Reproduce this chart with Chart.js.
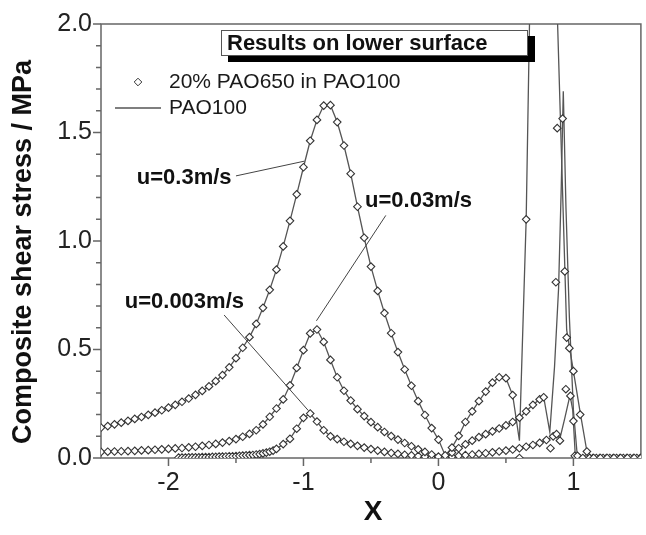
<!DOCTYPE html>
<html>
<head>
<meta charset="utf-8">
<script src="https://cdn.jsdelivr.net/npm/chart.js@4.4.1/dist/chart.umd.min.js"></script>
<style>
html, body { margin: 0; padding: 0; background: #fff; }
</style>
</head>
<body>
<canvas id="myChart" width="646" height="535"></canvas>
<script>
// x positions shared by the u=0.3 and u=0.03 runs (smooth part)
var xAB = [-2.5,-2.45,-2.4,-2.35,-2.3,-2.25,-2.2,-2.15,-2.1,-2.05,
    -2,-1.95,-1.9,-1.85,-1.8,-1.75,-1.7,-1.65,-1.6,-1.55,
    -1.5,-1.45,-1.4,-1.35,-1.3,-1.25,-1.2,-1.15,-1.1,-1.05,
    -1,-0.95,-0.9,-0.85,-0.8,-0.75,-0.7,-0.65,-0.6,-0.55,
    -0.5,-0.45,-0.4,-0.35,-0.3,-0.25,-0.2,-0.15,-0.1,-0.05,
    0,0.05,0.1,0.15,0.2,0.25,0.3,0.35,0.4,0.45,
    0.5,0.55,0.6,0.65,0.7,0.75];

// u=0.3m/s : both fluids agree up to x=0.55
var yA = [0.140,0.147,0.155,0.163,0.171,0.180,0.189,0.199,0.209,0.220,
    0.232,0.245,0.259,0.274,0.291,0.309,0.330,0.354,0.382,0.418,
    0.460,0.508,0.557,0.618,0.692,0.775,0.868,0.975,1.093,1.215,
    1.340,1.462,1.558,1.624,1.626,1.548,1.440,1.310,1.158,1.015,
    0.882,0.770,0.668,0.575,0.488,0.408,0.333,0.262,0.198,0.138,
    0.085,0.012,0.048,0.102,0.166,0.215,0.262,0.306,0.347,0.372,
    0.368,0.290];
var xAMixTail = [0.6,0.65,0.7,0.75,0.8,0.85,0.9,0.95,1,1.05,1.1,1.15,1.2,1.25,1.3,1.35,1.4,1.45,1.5];
var yAMixTail = [0,1.10,2.7,3.3,3.1,2.5,2.2,0.555,0.40,0.20,0.03,0,0,0,0,0,0,0,0];
var xAPureTail = [0.6,0.65,0.68,0.75,0.82,0.88,0.95,1,1.05,1.1,1.15,1.5];
var yAPureTail = [0.08,1.10,2.2,3.4,3.0,2.06,0.59,0.40,0.21,0.03,0,0];

// u=0.03m/s
var yB = [0.028,0.029,0.030,0.031,0.032,0.033,0.035,0.036,0.038,0.040,
    0.042,0.044,0.046,0.049,0.052,0.056,0.060,0.065,0.071,0.078,
    0.087,0.098,0.111,0.128,0.155,0.190,0.228,0.270,0.335,0.415,
    0.497,0.574,0.592,0.535,0.452,0.372,0.310,0.265,0.225,0.193,
    0.165,0.142,0.120,0.101,0.085,0.069,0.054,0.040,0.028,0.016,
    0.006,0.004,0.025,0.045,0.063,0.080,0.096,0.110,0.123,0.136,
    0.150,0.166,0.186,0.215,0.245,0.270];
var xBMixTail = [0.78,0.83,0.87,0.88,0.92,0.936,0.97,1,1.03,1.07,1.12,1.17,1.22,1.27,1.32,1.37,1.42,1.47];
var yBMixTail = [0.28,0.045,0.81,1.52,1.564,0.86,0.506,0.17,0.01,0,0,0,0,0,0,0,0,0];
var xBPureTail = [0.78,0.825,0.86,0.89,0.91,0.925,0.945,0.97,1,1.03,1.5];
var yBPureTail = [0.28,0.12,0.42,0.78,1.25,1.69,1.15,0.65,0.22,0,0];

// u=0.003m/s
var xC = [-1.925,-1.9,-1.875,-1.85,-1.825,-1.8,-1.775,-1.75,-1.725,-1.7,
    -1.675,-1.65,-1.625,-1.6,-1.575,-1.55,-1.525,-1.5,-1.475,-1.45,
    -1.425,-1.4,-1.375,-1.35,-1.325,-1.3,-1.275,-1.25,-1.225,-1.2,
    -1.15,-1.1,-1.05,-1,-0.95,-0.9,-0.85,-0.8,-0.75,-0.7,
    -0.65,-0.6,-0.55,-0.5,-0.45,-0.4,-0.35,-0.3,-0.25,-0.2,
    -0.15,-0.1,-0.05,0,0.05,0.1,0.15,0.2,0.25,0.3,
    0.35,0.4,0.45,0.5,0.55,0.6,0.65,0.7,0.75,0.8,
    0.85,0.875];
var yC = [0.002,0.002,0.002,0.003,0.003,0.003,0.003,0.004,0.004,0.004,
    0.005,0.005,0.006,0.006,0.007,0.008,0.008,0.009,0.010,0.011,
    0.012,0.013,0.014,0.016,0.018,0.021,0.025,0.029,0.034,0.042,
    0.064,0.088,0.135,0.185,0.205,0.168,0.128,0.100,0.087,0.075,
    0.065,0.056,0.048,0.041,0.034,0.028,0.023,0.019,0.015,0.012,
    0.009,0.006,0.004,0.002,0.003,0.006,0.010,0.013,0.016,0.019,
    0.022,0.026,0.030,0.034,0.039,0.045,0.052,0.060,0.070,0.083,
    0.100,0.110];
var xCMixTail = [0.9,0.944,0.978,1.01,1.045,1.095,1.145,1.195,1.245,1.295,1.345,1.395,1.445,1.495];
var yCMixTail = [0.08,0.317,0.286,0.01,0,0,0,0,0,0,0,0,0,0];
var xCPureTail = [0.9,0.935,0.975,0.995,1.015,1.5];
var yCPureTail = [0.09,0.18,0.29,0.22,0,0];

// ticks
var xMajor = [-2, -1, 0, 1];
var xMinor = [-1.5, -0.5, 0.5];
var yMajor = [0, 0.5, 1, 1.5, 2];
var yMinor = [0.1,0.2,0.3,0.4,0.6,0.7,0.8,0.9,1.1,1.2,1.3,1.4,1.6,1.7,1.8,1.9];

// labels on the plot
var notes = ['u=0.3m/s', 'u=0.03m/s', 'u=0.003m/s'];
var noteAt = [[-2.235, 1.29], [-0.544, 1.186], [-2.324, 0.718]];
var noteFrom = [[-1.50, 1.30], [-0.39, 1.118], [-1.588, 0.659]];
var noteTo = [[-0.993, 1.368], [-0.904, 0.632], [-0.963, 0.218]];

var FONT = '"Liberation Sans", Arial, sans-serif';

function pts(xs, ys) {
    return ys.map(function(y, i) { return {x: xs[i], y: y}; });
}

function lineSet(data) {
    return {label: 'PAO100', data: data, showLine: true, borderColor: '#555',
        borderWidth: 1.3, pointRadius: 0, pointHoverRadius: 0, tension: 0, order: 2};
}
function markSet(data) {
    return {label: '20% PAO650 in PAO100', data: data, showLine: false, pointStyle: 'rectRot',
        pointRadius: 3.8, borderColor: '#333', backgroundColor: '#fff', borderWidth: 1.1, order: 1};
}

var frame = {
    id: 'frame',
    beforeDatasetsDraw: function(chart) {
        var ctx = chart.ctx, a = chart.chartArea, sx = chart.scales.x, sy = chart.scales.y;
        ctx.save();
        ctx.strokeStyle = '#666';
        ctx.lineWidth = 1.5;
        ctx.strokeRect(a.left, a.top, a.right - a.left, a.bottom - a.top);
        ctx.beginPath();
        xMajor.forEach(function(v) { var p = sx.getPixelForValue(v); ctx.moveTo(p, a.bottom); ctx.lineTo(p, a.bottom + 8); });
        xMinor.forEach(function(v) { var p = sx.getPixelForValue(v); ctx.moveTo(p, a.bottom); ctx.lineTo(p, a.bottom + 5); });
        yMajor.forEach(function(v) { var p = sy.getPixelForValue(v); ctx.moveTo(a.left, p); ctx.lineTo(a.left - 8, p); });
        yMinor.forEach(function(v) { var p = sy.getPixelForValue(v); ctx.moveTo(a.left, p); ctx.lineTo(a.left - 5, p); });
        ctx.stroke();
        ctx.restore();
    }
};

var overlay = {
    id: 'overlay',
    afterDraw: function(chart) {
        var ctx = chart.ctx, sx = chart.scales.x, sy = chart.scales.y;
        var ds = chart.data.datasets;
        ctx.save();

        // leader lines and curve labels
        ctx.strokeStyle = '#444';
        ctx.lineWidth = 1;
        ctx.fillStyle = '#111';
        ctx.font = 'bold 22px ' + FONT;
        ctx.textBaseline = 'middle';
        ctx.textAlign = 'left';
        for (var i = 0; i < notes.length; i++) {
            ctx.beginPath();
            ctx.moveTo(sx.getPixelForValue(noteFrom[i][0]), sy.getPixelForValue(noteFrom[i][1]));
            ctx.lineTo(sx.getPixelForValue(noteTo[i][0]), sy.getPixelForValue(noteTo[i][1]));
            ctx.stroke();
            ctx.fillText(notes[i], sx.getPixelForValue(noteAt[i][0]), sy.getPixelForValue(noteAt[i][1]));
        }

        // legend
        var mk = ds[3], ln = ds[0];
        ctx.strokeStyle = mk.borderColor;
        ctx.fillStyle = '#fff';
        Chart.helpers.drawPoint(ctx, {pointStyle: 'rectRot', radius: mk.pointRadius,
            borderWidth: mk.borderWidth, rotation: 0}, 138, 82);
        ctx.strokeStyle = ln.borderColor;
        ctx.lineWidth = ln.borderWidth;
        ctx.beginPath();
        ctx.moveTo(115, 108);
        ctx.lineTo(161, 108);
        ctx.stroke();
        ctx.fillStyle = '#1a1a1a';
        ctx.font = '21px ' + FONT;
        ctx.fillText(mk.label, 169, 82);
        ctx.fillText(ln.label, 169, 108);

        // title box with shadow
        ctx.fillStyle = '#000';
        ctx.fillRect(228, 36, 307, 26);
        ctx.fillStyle = '#fff';
        ctx.fillRect(221, 30, 307, 26);
        ctx.strokeStyle = '#555';
        ctx.lineWidth = 1;
        ctx.strokeRect(221.5, 30.5, 306, 25);
        ctx.fillStyle = '#111';
        ctx.font = 'bold 22px ' + FONT;
        ctx.fillText('Results on lower surface', 227, 44);

        // axis titles
        ctx.font = 'bold 28px ' + FONT;
        ctx.textAlign = 'center';
        ctx.fillText('X', 373, 512);
        ctx.font = 'bold 27px ' + FONT;
        ctx.translate(24, 252);
        ctx.rotate(-Math.PI / 2);
        ctx.fillText('Composite shear stress / MPa', 0, 0);
        ctx.restore();
    }
};

var ctx = document.getElementById('myChart').getContext('2d');
var chart = new Chart(ctx, {
    type: 'scatter',
    data: {
        datasets: [
            lineSet(pts(xAB, yA).concat(pts(xAPureTail, yAPureTail))),
            lineSet(pts(xAB, yB).concat(pts(xBPureTail, yBPureTail))),
            lineSet(pts(xC, yC).concat(pts(xCPureTail, yCPureTail))),
            markSet(pts(xAB, yA).concat(pts(xAMixTail, yAMixTail))),
            markSet(pts(xAB, yB).concat(pts(xBMixTail, yBMixTail))),
            markSet(pts(xC, yC).concat(pts(xCMixTail, yCMixTail)))
        ]
    },
    options: {
        responsive: false,
        animation: false,
        layout: {padding: {top: 18, right: 1, left: 0, bottom: 0}},
        plugins: {legend: {display: false}, tooltip: {enabled: false}},
        scales: {
            x: {
                type: 'linear', min: -2.5, max: 1.5,
                afterBuildTicks: function(s) { s.ticks = xMajor.map(function(v) { return {value: v}; }); },
                afterFit: function(s) { s.height = 77; },
                grid: {display: false, drawTicks: false},
                border: {display: false},
                ticks: {color: '#222', padding: 10, font: {family: FONT, size: 25},
                    callback: function(v) { return String(v); }}
            },
            y: {
                min: 0, max: 2,
                afterBuildTicks: function(s) { s.ticks = yMajor.map(function(v) { return {value: v}; }); },
                afterFit: function(s) { s.width = 101; },
                grid: {display: false, drawTicks: false},
                border: {display: false},
                ticks: {color: '#222', padding: 9, font: {family: FONT, size: 25},
                    callback: function(v) { return v.toFixed(1); }}
            }
        }
    },
    plugins: [frame, overlay]
});
</script>
</body>
</html>
